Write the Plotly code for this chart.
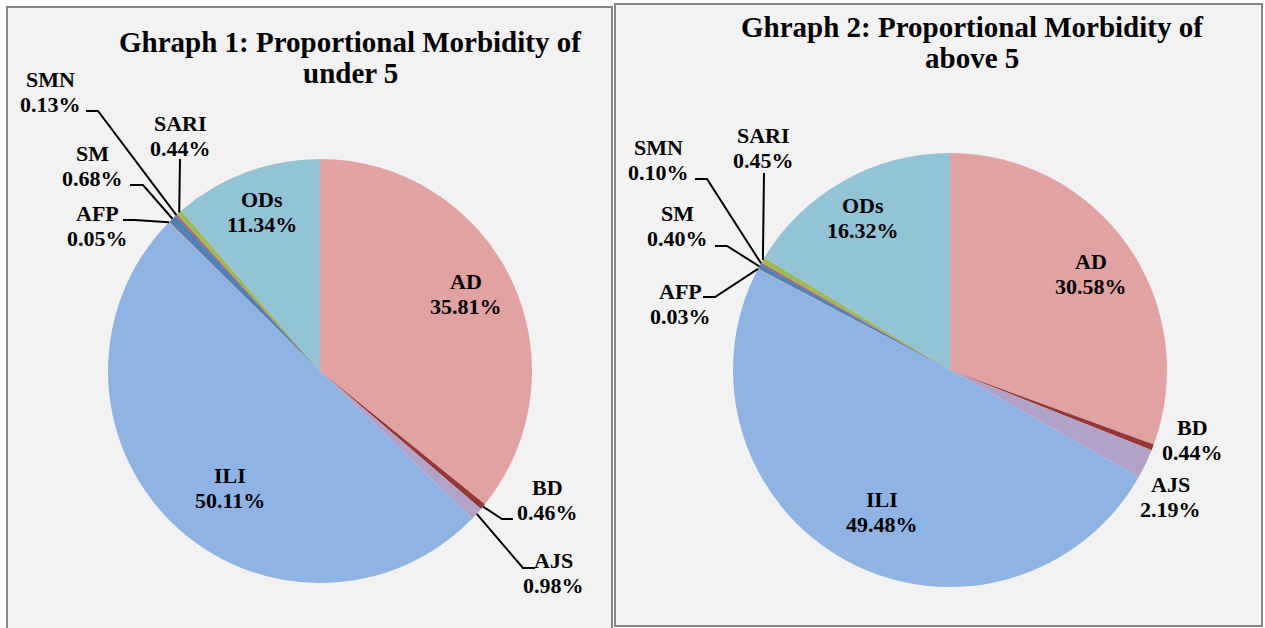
import math
import plotly.graph_objects as go

# ---------------- data ----------------
categories = ["AD", "BD", "AJS", "ILI", "AFP", "SM", "SMN", "SARI", "ODs"]
under5_pct = [35.81, 0.46, 0.98, 50.11, 0.05, 0.68, 0.13, 0.44, 11.34]
above5_pct = [30.58, 0.44, 2.19, 49.48, 0.03, 0.40, 0.10, 0.45, 16.32]
titles = [["Ghraph 1: Proportional Morbidity of", "under 5"],
          ["Ghraph 2: Proportional Morbidity of", "above 5"]]

# ---------------- style / layout ----------------
W, H = 1265, 628
colors = ["#E0A3A2", "#953735", "#B3A2C7", "#8EB4E3", "#F79646",
          "#4F81BD", "#C0504D", "#9BBB59", "#93C3D6"]
FONT = "Liberation Serif"
LBL_SIZE = 22
TITLE_SIZE = 29

def X(px):
    return px / W

def Y(py):
    return 1 - py / H

panels = [
    dict(rect=(7, 7, 612, 645), center=(320, 371), r=212, title_x=350, title_y=(42, 73)),
    dict(rect=(615, 4, 1262, 626), center=(950, 370), r=217, title_x=972, title_y=(27, 58)),
]

# label placements (pixel centers); leader lines: start, elbow (pixel), end computed on slice edge
placements = [
    {
        "AD": dict(c=(466, 294)), "ODs": dict(c=(262, 212)), "ILI": dict(c=(230, 488)),
        "BD": dict(c=(547, 500), line=[(513, 519), (502, 519)]),
        "AJS": dict(c=(553, 573), line=[(535, 568), (523, 568)]),
        "SARI": dict(c=(180, 136), line=[(180, 159)]),
        "SMN": dict(c=(50, 92), line=[(86, 111), (98, 111)]),
        "SM": dict(c=(92, 166), line=[(130, 185), (143, 185)]),
        "AFP": dict(c=(97, 226), line=[(123, 220), (135, 220)]),
    },
    {
        "AD": dict(c=(1091, 274)), "ODs": dict(c=(863, 218)), "ILI": dict(c=(882, 512)),
        "BD": dict(c=(1192, 440)), "AJS": dict(c=(1170, 497)),
        "SARI": dict(c=(763, 148), line=[(764, 173)]),
        "SMN": dict(c=(658, 160), line=[(695, 179), (707, 179)]),
        "SM": dict(c=(677, 226), line=[(715, 246), (727, 246)]),
        "AFP": dict(c=(680, 304), line=[(703, 297), (715, 297)]),
    },
]

fig = go.Figure()
shapes = []
annotations = []

for i, (vals, p) in enumerate(zip([under5_pct, above5_pct], panels)):
    x0, y0, x1, y1 = p["rect"]
    shapes.append(dict(type="rect", xref="paper", yref="paper", layer="below",
                       x0=X(x0), x1=X(x1), y0=Y(y1), y1=Y(y0),
                       fillcolor="#F2F2F2", line=dict(color="#878787", width=2)))
    cx, cy = p["center"]
    r = p["r"]
    fig.add_trace(go.Pie(
        labels=categories, values=vals, sort=False, direction="clockwise", rotation=0,
        marker=dict(colors=colors, line=dict(width=0)),
        textinfo="none", hoverinfo="label+percent", showlegend=False,
        domain=dict(x=[X(cx - r), X(cx + r)], y=[Y(cy + r), Y(cy - r)]),
    ))
    # title
    for line_txt, ty in zip(titles[i], p["title_y"]):
        annotations.append(dict(xref="paper", yref="paper", x=X(p["title_x"]), y=Y(ty),
                                text=f"<b>{line_txt}</b>", showarrow=False,
                                xanchor="center", yanchor="middle",
                                font=dict(family=FONT, size=TITLE_SIZE, color="black")))
    # labels
    total = sum(vals)
    cum = 0.0
    for cat, v in zip(categories, vals):
        mid = (cum + v / 2) / total
        cum += v
        ang = 2 * math.pi * mid
        ex, ey = cx + r * math.sin(ang), cy - r * math.cos(ang)
        pl = placements[i][cat]
        lx, ly = pl["c"]
        for txt, dy in ((cat, -12.5), (f"{v:.2f}%", 12.5)):
            annotations.append(dict(xref="paper", yref="paper", x=X(lx), y=Y(ly + dy),
                                    text=f"<b>{txt}</b>", showarrow=False,
                                    xanchor="center", yanchor="middle",
                                    font=dict(family=FONT, size=LBL_SIZE, color="black")))
        if "line" in pl:
            pts = pl["line"] + [(ex, ey)]
            path = "M " + " L ".join(f"{X(a):.5f},{Y(b):.5f}" for a, b in pts)
            shapes.append(dict(type="path", xref="paper", yref="paper", path=path,
                               line=dict(color="black", width=2)))

fig.update_layout(width=W, height=H, margin=dict(l=0, r=0, t=0, b=0),
                  paper_bgcolor="white", plot_bgcolor="white",
                  shapes=shapes, annotations=annotations)
fig.write_html("out.html", config={"displayModeBar": False},
               post_script="document.body.style.margin='0px';document.body.style.overflow='hidden';")
